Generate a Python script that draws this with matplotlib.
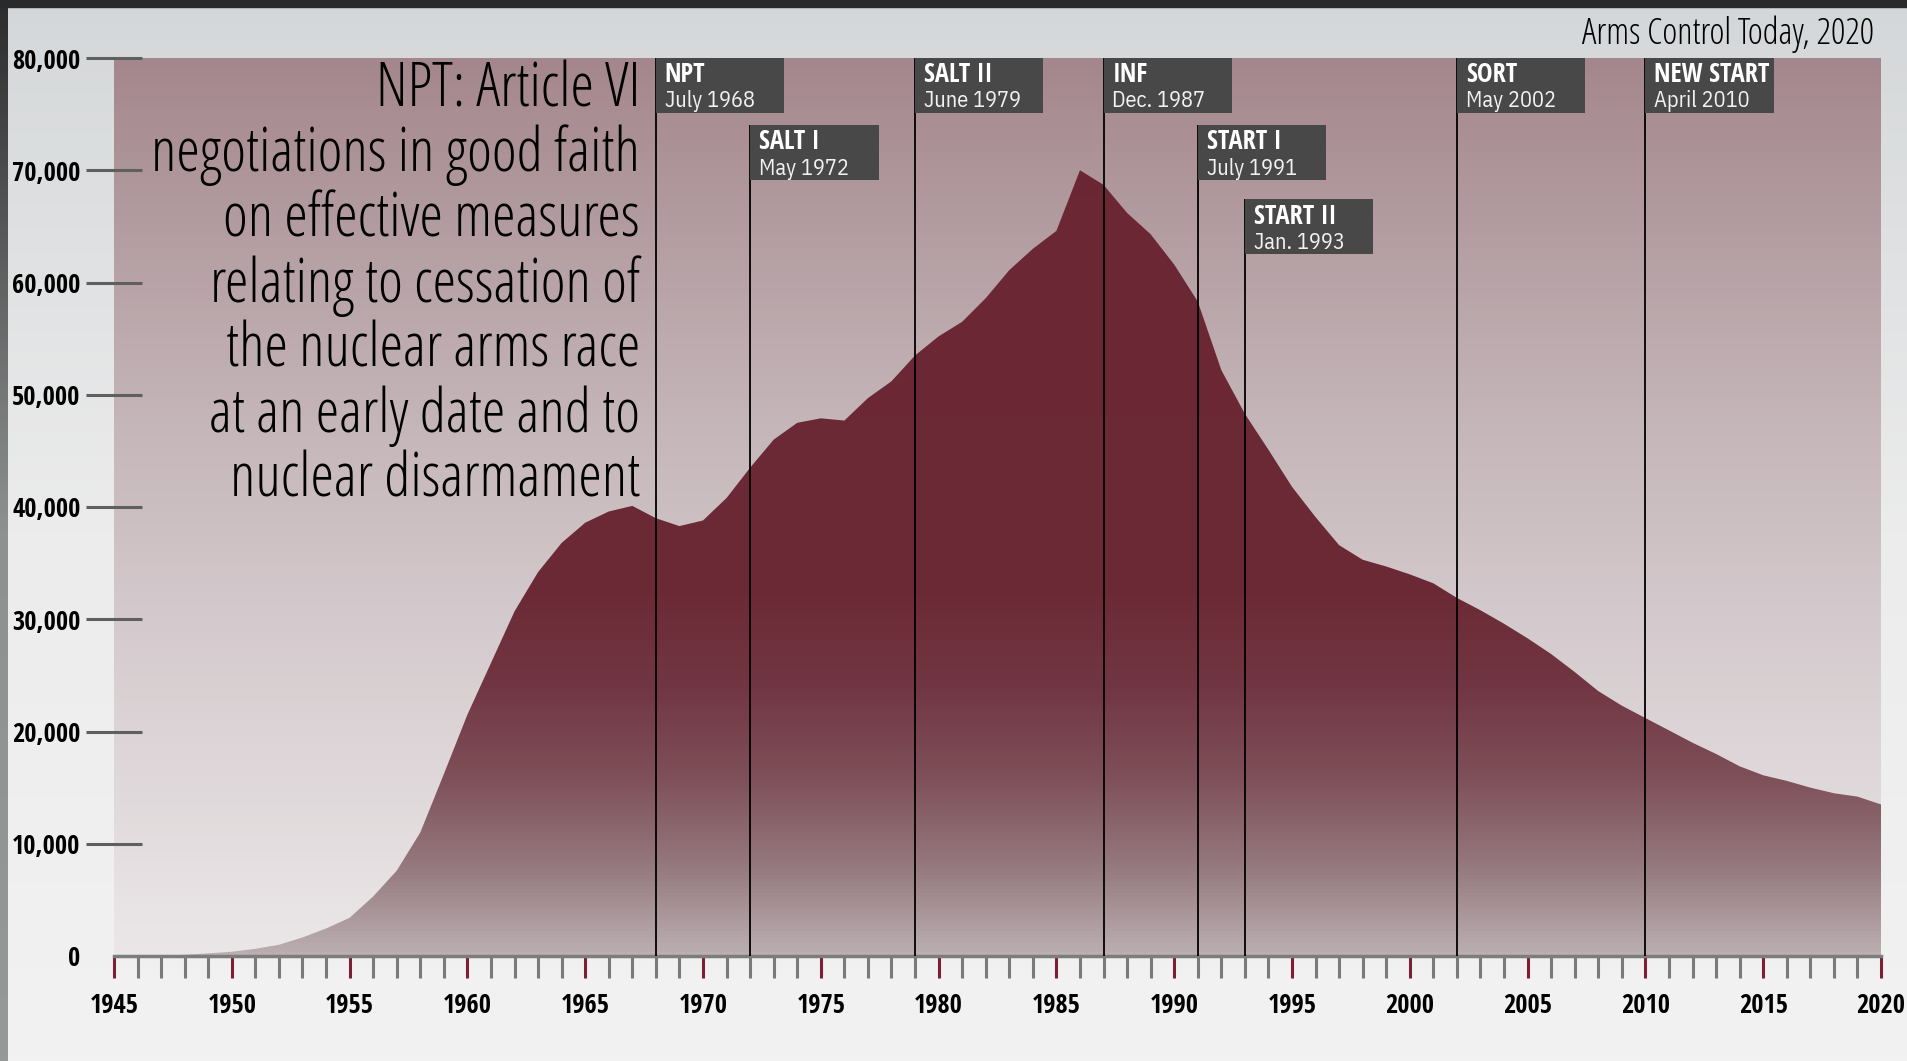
import numpy as np
import matplotlib.pyplot as plt
from matplotlib.colors import LinearSegmentedColormap
from matplotlib.patches import Rectangle

# estimated global nuclear warhead stockpile
years = list(range(1945, 2021))
warheads = [6, 11, 32, 110, 235, 380, 640, 1000, 1650, 2450,
            3400, 5300, 7600, 11000, 16200, 21500, 26100, 30700, 34200, 36800,
            38600, 39600, 40100, 39000, 38300, 38800, 40800, 43500, 46000, 47500,
            47900, 47700, 49700, 51200, 53500, 55200, 56500, 58600, 61100, 63000,
            64600, 70000, 68700, 66200, 64300, 61600, 58300, 52200, 48300, 45100,
            41800, 39100, 36600, 35300, 34700, 34000, 33200, 31900, 30800, 29600,
            28300, 26900, 25300, 23600, 22300, 21200, 20100, 19000, 18000, 16900,
            16100, 15600, 15000, 14500, 14200, 13500]

treaty_names = ['NPT', 'SALT I', 'SALT II', 'INF', 'START I', 'START II', 'SORT', 'NEW START']
treaty_dates = ['July 1968', 'May 1972', 'June 1979', 'Dec. 1987', 'July 1991',
                'Jan. 1993', 'May 2002', 'April 2010']
treaty_years = [1968, 1972, 1979, 1987, 1991, 1993, 2002, 2010]
treaty_rows = [0, 1, 0, 0, 1, 2, 0, 0]

yticks = [0, 10000, 20000, 30000, 40000, 50000, 60000, 70000, 80000]
ytick_labels = ['0', '10,000', '20,000', '30,000', '40,000', '50,000', '60,000', '70,000', '80,000']
xticks = list(range(1945, 2021, 5))

article_text = ("NPT: Article VI\nnegotiations in good faith\non effective measures\n"
                "relating to cessation of\nthe nuclear arms race\nat an early date and to\n"
                "nuclear disarmament")
source = "Arms Control Today, 2020"

plt.rcParams['font.family'] = ['Open Sans Condensed', 'IBM Plex Sans Condensed', 'DejaVu Sans']
light = dict(family=['Open Sans', 'DejaVu Sans'], stretch='condensed', weight=300)
regular = dict(family=['IBM Plex Sans Condensed', 'DejaVu Sans'], weight=400)

W, H = 1907, 1061
fig = plt.figure(figsize=(W / 100, H / 100), dpi=100)

# page background + dark frame
bg = fig.add_axes([0, 0, 1, 1], zorder=-10)
bg.axis('off')
grad = np.linspace(0, 1, 256).reshape(-1, 1)
page_cmap = LinearSegmentedColormap.from_list('page', ['#f2f2f2', '#ececec', '#d4d7d9'])
bg.imshow(grad, cmap=page_cmap, aspect='auto', extent=[0, 1, 0, 1], origin='lower')
side_cmap = LinearSegmentedColormap.from_list('side', ['#959a98', '#8d9290', '#2c2c2c'])
bg.imshow(grad, cmap=side_cmap, aspect='auto', extent=[0, 8 / W, 0, 1], origin='lower')
bg.add_patch(Rectangle((0, 1 - 7 / H), 1, 7 / H, color='#2a2a2a'))
bg.set_xlim(0, 1)
bg.set_ylim(0, 1)

ax = fig.add_axes([114 / W, 105 / H, 1767 / W, 898 / H])
ext = [1945, 2020, 0, 80000]

plot_cmap = LinearSegmentedColormap.from_list(
    'plotbg', [(0.0, '#ebe7e8'), (0.35, '#d6cccf'), (0.6, '#c4b5b8'), (1.0, '#a4878d')])
ax.imshow(grad, cmap=plot_cmap, aspect='auto', extent=ext, origin='lower', zorder=0)

area_cmap = LinearSegmentedColormap.from_list(
    'area', [(0.0, '#bbafb2'), (0.1, '#94787d'), (0.2, '#7e4f58'), (0.3, '#713643'),
             (0.4, '#6c2a36'), (1.0, '#6b2633')])
poly = ax.fill_between(years, warheads, 0, facecolor='none', edgecolor='none')
area = ax.imshow(grad, cmap=area_cmap, aspect='auto', extent=ext, origin='lower', zorder=1)
area.set_clip_path(poly.get_paths()[0], transform=ax.transData)

# treaty markers
box_tops = [80000, 74000, 67400]
box_w, box_h = 5.45, 4900
for name, date, yr, row in zip(treaty_names, treaty_dates, treaty_years, treaty_rows):
    top = box_tops[row]
    ax.vlines(yr, 0, top, color='black', lw=1.3, zorder=4)
    ax.add_patch(Rectangle((yr, top - box_h), box_w, box_h, facecolor='#484848',
                           edgecolor='none', zorder=5))
    ax.text(yr + 0.38, top - 2150, name, color='white', fontsize=19, fontweight='bold',
            va='baseline', ha='left', zorder=6)
    ax.text(yr + 0.38, top - 4400, date, color='#f2f2f2', fontsize=16,
            va='baseline', ha='left', zorder=6, **regular)

ax.text(0.2977, 0.998, article_text, transform=ax.transAxes, ha='right', va='top',
        fontsize=43, linespacing=1.075, color='black', zorder=6, **light)

ax.set_xlim(1945, 2020)
ax.set_ylim(0, 80000)

ax.set_yticks(yticks)
ax.set_yticklabels(ytick_labels, fontsize=19, fontweight='bold')
ax.tick_params(axis='y', direction='inout', length=40, width=2.2, color='#5f5f5f', pad=4)
ax.yaxis.get_major_ticks()[0].tick1line.set_visible(False)

ax.set_xticks(xticks)
ax.set_xticklabels([str(x) for x in xticks], fontsize=19, fontweight='bold')
ax.set_xticks(years, minor=True)
ax.tick_params(axis='x', which='major', direction='out', length=16, width=2.2,
               color='#7a1f35', pad=10)
ax.tick_params(axis='x', which='minor', direction='out', length=16, width=2.2,
               color='#7a7a7a')

for s in ['top', 'right', 'left']:
    ax.spines[s].set_visible(False)
ax.spines['bottom'].set_color('#7d7d7d')
ax.spines['bottom'].set_linewidth(2.5)

fig.text(1874 / W, 1 - 34 / H, source, ha='right', va='center', fontsize=26,
         color='black', **light)

fig.savefig('out.png', dpi=100)
